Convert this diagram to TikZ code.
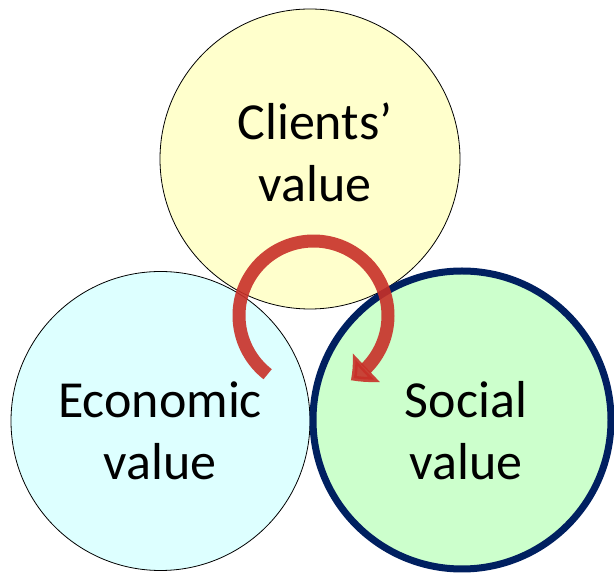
\documentclass[tikz,border=0pt]{standalone}
\usepackage{fontspec}
\setmainfont{Carlito}
\usepackage{xcolor}
\usetikzlibrary{arrows.meta,bending}

\definecolor{clientfill}{RGB}{255,255,204}
\definecolor{econfill}{RGB}{221,255,255}
\definecolor{socialfill}{RGB}{204,255,204}
\definecolor{socialline}{RGB}{0,32,96}
\definecolor{cyclered}{RGB}{200,48,40}

\begin{document}
\begin{tikzpicture}[x=1pt,y=1pt,
    valuecircle/.style={draw, circle, minimum size=#1, inner sep=0pt},
    valuetext/.style={align=center, anchor=base, font=\fontsize{52}{62.5}\selectfont}]
    \useasboundingbox (0,0) rectangle (614,573);

    % Circles
    \node[valuecircle=299pt, fill=econfill, line width=0.8pt] (economic) at (160.5,152) {};
    \node[valuecircle=300pt, fill=clientfill, line width=0.8pt] (clients) at (310,414) {};
    \node[valuecircle=298pt, fill=socialfill, draw=socialline, line width=7pt] (social) at (462,153) {};

    % Texts
    \node[valuetext] (clientstext) at (315,371.3) {Clients’\\value};
    \node[valuetext] (economictext) at (160,93) {Economic\\value};
    \node[valuetext] (socialtext) at (466,93) {Social\\value};

    % Cycle arrow
    \draw[cyclered, opacity=0.9, line width=13pt, -{Triangle[width=38pt,length=20pt,bend]}]
        (313.5,257.5) ++(232:74.5) arc[start angle=232, end angle=-60, radius=74.5];
\end{tikzpicture}
\end{document}
